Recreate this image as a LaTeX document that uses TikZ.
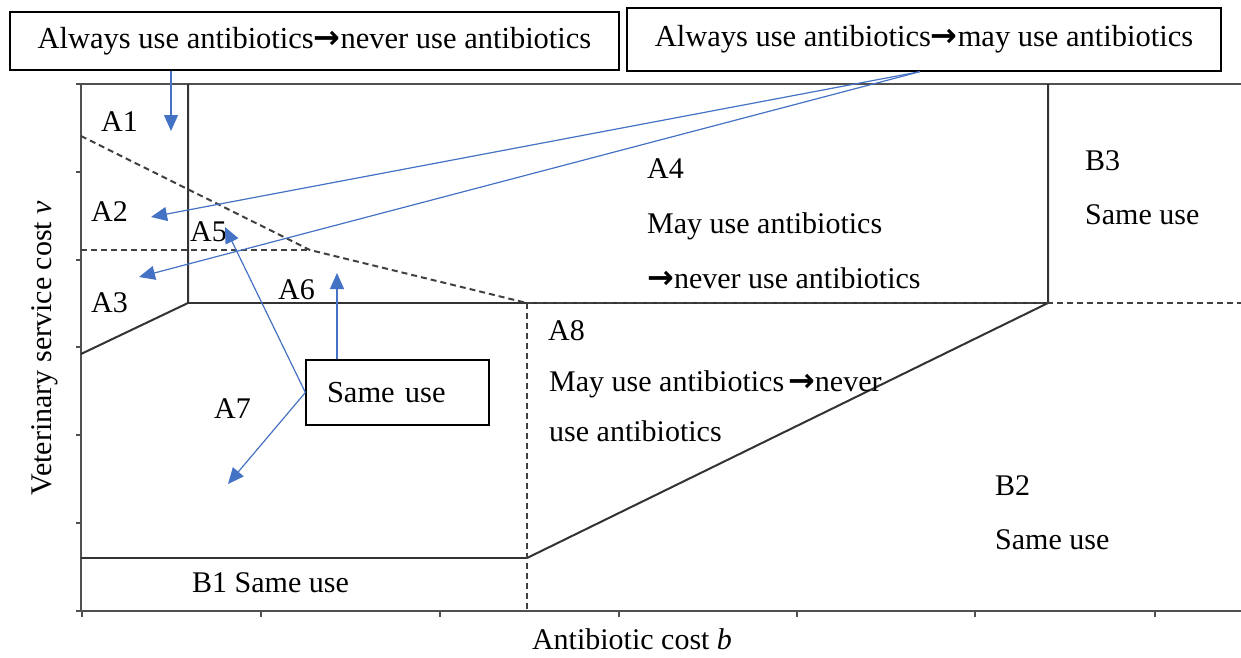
\documentclass[tikz,border=0pt]{standalone}
\usepackage{fontspec}
\setmainfont{Liberation Serif}
\newfontfamily\arrowfont{DejaVu Sans}
\usetikzlibrary{arrows.meta,calc}
\definecolor{linegray}{HTML}{505050}
\definecolor{arrowblue}{HTML}{4472C4}
\newcommand{\thickarrow}{{\arrowfont\bfseries\fontsize{32}{32}\selectfont →}}

\begin{document}
\begin{tikzpicture}[x=1pt,y=-1pt,
  frame/.style={draw=linegray, line width=1.7pt},
  solidb/.style={draw=black!80, line width=2pt},
  dashb/.style={draw=black!75, line width=2pt, dash pattern=on 6pt off 4pt},
  tick/.style={draw=linegray, line width=1.2pt},
  txt/.style={font=\fontsize{30}{34}\selectfont, inner sep=0pt, anchor=base west},
  callout/.style={draw=black, line width=1.3pt, fill=white, font=\fontsize{30.5}{34}\selectfont},
  pointer/.style={draw=arrowblue, line width=1.2pt, -{Triangle[length=16pt,width=14pt]}},
]
\useasboundingbox (0,0) rectangle (1241,657);

% axes and frame
\draw[frame] (81,84) -- (1241,84);
\draw[frame] (81,84) -- (81,611) -- (1241,611);
\foreach \yy in {84,172,260,347,435,523,611} \draw[tick] (76,\yy) -- (81,\yy);
\foreach \xx in {82,261,440,619,797,975,1155} \draw[tick] (\xx,611) -- (\xx,617);

% solid boundaries
\draw[solidb] (188,84) -- (188,303) -- (81,354);
\draw[solidb] (188,303) -- (1048,303);
\draw[solidb] (1048,84) -- (1048,303) -- (527,558);
\draw[solidb] (81,558) -- (527,558);

% dashed boundaries
\draw[dashb] (81,136) -- (310,250) -- (527,303);
\draw[dashb] (81,250) -- (310,250);
\draw[dashb] (527,303) -- (1241,303);
\draw[dashb] (527,303) -- (527,611);

% region labels
\node[txt] (la1) at (101,131) {A1};
\node[txt] (la2) at (91,221) {A2};
\node[txt] (la5) at (190,241) {A5};
\node[txt] (la3) at (91,312) {A3};
\node[txt] (la6) at (278,299) {A6};
\node[txt] (la7) at (214,418) {A7};
\node[txt] (la4) at (647,178) {A4};
\node[txt] (la4a) at (647,233) {May use antibiotics};
\node[txt] (la4b) at (647,288) {\thickarrow never use antibiotics};
\node[txt] (la8) at (548,340) {A8};
\node[txt] (la8a) at (549,391) {May use antibiotics\hspace{4pt}\thickarrow never};
\node[txt] (la8b) at (549,441) {use antibiotics};
\node[txt] (lb3) at (1085,170) {B3};
\node[txt] (lb3a) at (1085,224) {Same use};
\node[txt] (lb2) at (995,495) {B2};
\node[txt] (lb2a) at (995,549) {Same use};
\node[txt] (lb1) at (192,592) {B1 Same use};

% axis titles
\node[txt, anchor=base] (xlab) at (632,649) {Antibiotic cost \textit{b}};
\node[txt, anchor=base, rotate=90] (ylab) at (51,348) {Veterinary service cost \textit{v}};

% callout boxes
\node[callout, minimum width=609pt, minimum height=58pt] (box1) at (314.5,41) {Always use antibiotics\thickarrow never use antibiotics};
\node[callout, minimum width=594pt, minimum height=63pt] (box2) at (924,39.5) {Always use antibiotics\thickarrow may use antibiotics};
\node[callout, minimum height=65pt, inner xsep=21pt, text width=141pt, align=left] (same) at (397.5,392.5) {Same use};

% arrow tips
\coordinate (tipA1) at (171,131);
\coordinate (tipA2) at (151,217);
\coordinate (tipA3) at (139,277);
\coordinate (tipA5) at (225,227);
\coordinate (tipA6) at (337,273);
\coordinate (tipA7) at (228,484);
\coordinate (src2) at ($(box2.south)+(-4,0)$);

% pointers
\draw[pointer] (box1.south -| tipA1) -- (tipA1);
\draw[pointer] (src2) -- (tipA2);
\draw[pointer] (src2) -- (tipA3);
\draw[pointer] (same.west) -- (tipA5);
\draw[pointer] (same.west) -- (tipA7);
\draw[pointer] (same.north -| tipA6) -- (tipA6);
\end{tikzpicture}
\end{document}
